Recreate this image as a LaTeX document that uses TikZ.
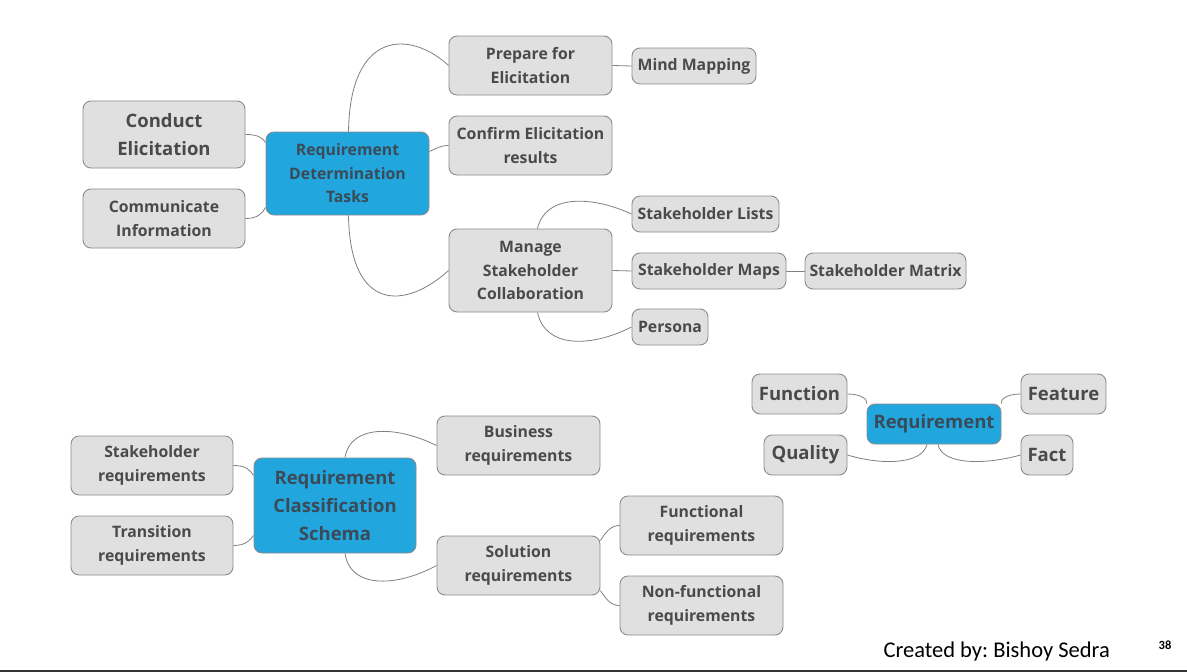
\documentclass[tikz,border=0pt]{standalone}
\usepackage{fontspec}
\setmainfont{Open Sans}
\newfontfamily\carlito{Carlito}
\usetikzlibrary{backgrounds}
\definecolor{gfill}{HTML}{E0E0E0}
\definecolor{gline}{HTML}{8C8C8C}
\definecolor{bfill}{HTML}{21A6DE}
\definecolor{tcol}{HTML}{4A4A4A}
\definecolor{btext}{HTML}{3B4A57}
\definecolor{conncol}{HTML}{808080}
\begin{document}
\frenchspacing
\begin{tikzpicture}[x=1pt,y=-1pt,
 box/.style={draw=gline, line width=0.9pt, rounded corners=8pt, align=center, inner sep=0pt,
   font=\bfseries\fontsize{15.8}{23.5}\selectfont, text=tcol},
 gbox/.style={box, fill=gfill},
 bbox/.style={box, fill=bfill, text=btext},
 sz/.style 2 args={minimum width=#1pt, minimum height=#2pt},
 big/.style={font=\bfseries\fontsize{18.5}{28}\selectfont},
 mid/.style={font=\bfseries\fontsize{18.5}{24}\selectfont},
 conn/.style={draw=conncol, line width=0.8pt}]
\useasboundingbox (0,0) rectangle (1187,672);

% top cluster
\node[gbox, sz={162}{67}, big] (ce) at (164,134.5) {Conduct\\Elicitation};
\node[gbox, sz={162}{59}] (ci) at (164,218.5) {Communicate\\Information};
\node[bbox, sz={163}{83}] (rdt) at (347.5,173.5) {Requirement\\Determination\\Tasks};
\node[gbox, sz={163}{59}] (prep) at (530.5,65.5) {Prepare for\\Elicitation};
\node[gbox, sz={124}{36}] (mm) at (694,66) {Mind Mapping};
\node[gbox, sz={163}{59}] (conf) at (530.5,145.5) {Confirm Elicitation\\results};
\node[gbox, sz={163}{83}] (msc) at (530.5,270.5) {Manage\\Stakeholder\\Collaboration};
\node[gbox, sz={147}{36}] (sl) at (705.5,214) {Stakeholder Lists};
\node[gbox, sz={154}{36}] (smap) at (709,271) {Stakeholder Maps};
\node[gbox, sz={161}{36}] (smat) at (885.5,271) {Stakeholder Matrix};
\node[gbox, sz={76}{36}] (per) at (670,327) {Persona};

% bottom cluster
\node[gbox, sz={162}{59}] (sr) at (152,465.5) {Stakeholder\\requirements};
\node[gbox, sz={162}{59}] (tr) at (152,545.5) {Transition\\requirements};
\node[bbox, sz={162}{95}, big] (rcs) at (335,505.5) {Requirement\\Classification\\Schema};
\node[gbox, sz={163}{59}] (br) at (518.5,445.5) {Business\\requirements};
\node[gbox, sz={163}{59}] (sol) at (518.5,565.5) {Solution\\requirements};
\node[gbox, sz={163}{59}] (fr) at (701.5,525.5) {Functional\\requirements};
\node[gbox, sz={163}{59}] (nfr) at (701.5,605.5) {Non-functional\\requirements};

% right cluster
\node[gbox, sz={95}{40}, mid] (fun) at (799.5,394) {Function};
\node[bbox, sz={134}{40}, mid] (req) at (934,424) {Requirement};
\node[gbox, sz={85}{40}, mid] (fea) at (1063.5,394) {Feature};
\node[gbox, sz={83}{40}, mid] (qua) at (805.5,455) {Quality};
\node[gbox, sz={52}{40}, mid] (fact) at (1047,455) {Fact};

% footer
\node[anchor=base east, inner sep=0pt, font=\carlito\fontsize{22.5}{22.5}\selectfont, text=black] (cr) at (1110,657) {Created by: Bishoy Sedra};
\node[anchor=base, inner sep=0pt, font=\carlito\bfseries\fontsize{12.5}{12.5}\selectfont, text=black] (pg) at (1165,649) {38};

\begin{pgfonlayer}{background}
\fill[white] (0,0) rectangle (1187,672);
\fill[black!80] (0,669.5) rectangle (1187,672);
% top connectors
\draw[conn] (ce.east) .. controls (257,134.5) and (262,137) .. ([yshift=31pt]rdt.west);
\draw[conn] (ci.east) .. controls (257,218.5) and (262,214) .. ([yshift=-34pt]rdt.west);
\draw[conn] ([xshift=1pt]rdt.north) .. controls (350,30) and (410,30) .. (prep.west);
\draw[conn] ([yshift=22pt]rdt.east) .. controls (437,148) and (441,145.5) .. (conf.west);
\draw[conn] ([xshift=1pt]rdt.south) .. controls (350,312) and (405,310) .. (msc.west);
\draw[conn] (prep.east) -- (mm.west);
\draw[conn] ([xshift=7pt]msc.north) .. controls (545,195) and (590,195) .. (sl.west);
\draw[conn] (msc.east) -- (smap.west);
\draw[conn] (smap.east) -- (smat.west);
\draw[conn] ([xshift=7pt]msc.south) .. controls (545,348) and (590,348) .. (per.west);
% bottom connectors
\draw[conn] (sr.east) .. controls (246,465.5) and (250,470) .. ([yshift=30pt]rcs.west);
\draw[conn] (tr.east) .. controls (246,545.5) and (250,540) .. ([yshift=-30pt]rcs.west);
\draw[conn] ([xshift=10pt]rcs.north) .. controls (350,425) and (395,425) .. (br.west);
\draw[conn] ([xshift=10pt]rcs.south) .. controls (350,588) and (395,588) .. (sol.west);
\draw[conn] ([yshift=25pt]sol.east) .. controls (607,530) and (612,525.5) .. (fr.west);
\draw[conn] ([yshift=-25pt]sol.east) .. controls (607,601) and (612,605.5) .. (nfr.west);
% right connectors
\draw[conn] (fun.east) .. controls (862,394) and (868,400) .. (req.north west);
\draw[conn] (fea.west) .. controls (1006,394) and (1000,400) .. (req.north east);
\draw[conn] ([xshift=-7pt]req.south) .. controls (922,465) and (880,465) .. (qua.east);
\draw[conn] ([xshift=4pt]req.south) .. controls (942,465) and (985,465) .. (fact.west);
\end{pgfonlayer}
\end{tikzpicture}
\end{document}
